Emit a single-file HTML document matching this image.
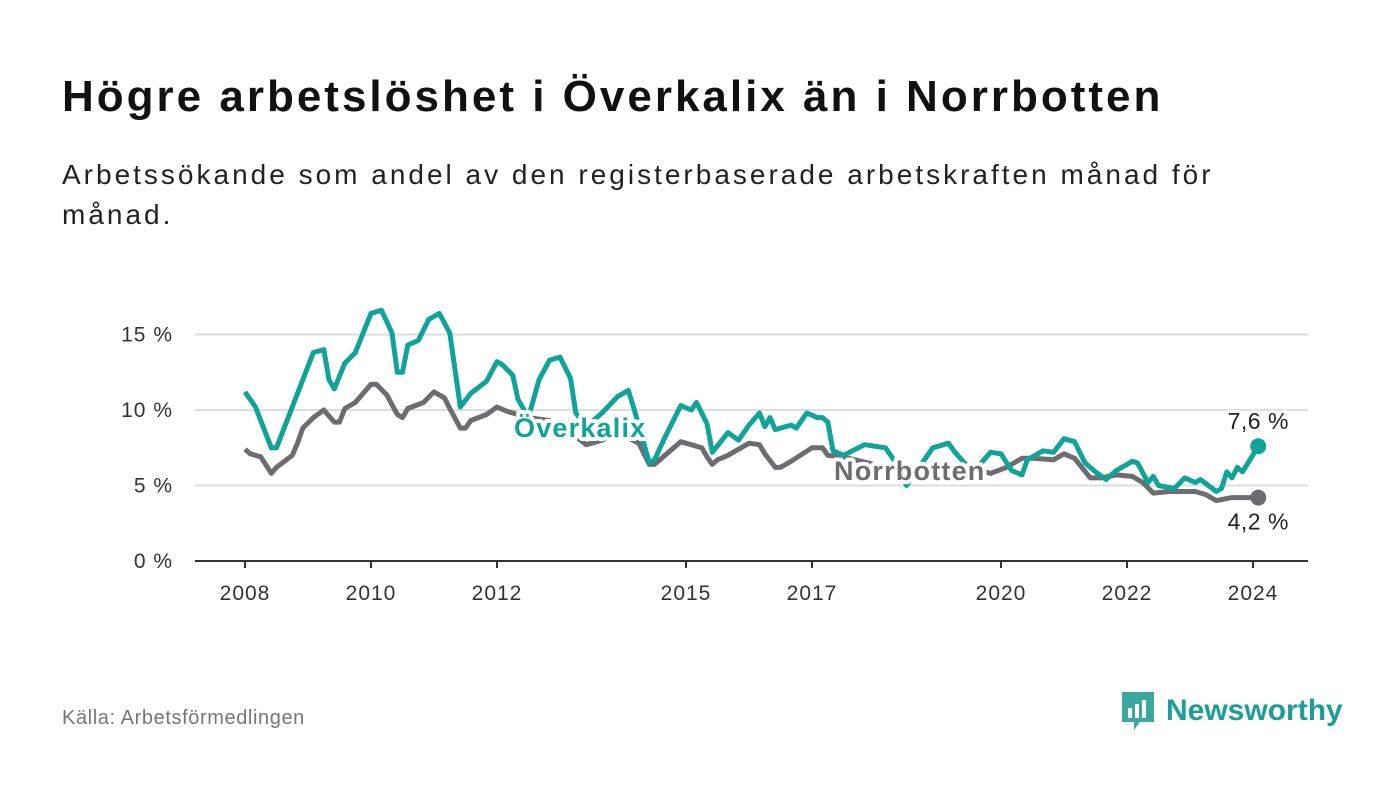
<!DOCTYPE html>
<html><head><meta charset="utf-8"><style>
body{margin:0;width:1400px;height:794px;background:#fff;font-family:"Liberation Sans",sans-serif;overflow:hidden;position:relative}
h1{position:absolute;left:62px;top:72px;margin:0;font-size:44px;letter-spacing:3px;font-weight:bold;color:#111}
.sub{position:absolute;left:62px;top:155px;width:1220px;font-size:28px;letter-spacing:3px;line-height:40px;color:#222}
.src{position:absolute;left:62px;top:707px;font-size:20px;letter-spacing:0.6px;color:#777}
.logo{position:absolute;left:1120px;top:690px;display:flex;align-items:center;gap:10px;color:#1a9e96;font-weight:bold;font-size:30px}
</style></head><body>
<h1>Högre arbetslöshet i Överkalix än i Norrbotten</h1>
<div class="sub">Arbetssökande som andel av den registerbaserade arbetskraften månad för månad.</div>
<svg id="chart" width="1400" height="794" style="position:absolute;left:0;top:0"></svg>
<div class="src">Källa: Arbetsförmedlingen</div>
<div class="logo"><svg width="36" height="42" viewBox="0 0 36 42"><path d="M2 2h32v30H20l-6 8v-8H2z" fill="#3aa89f"/><rect x="8" y="18" width="4" height="10" fill="#fff"/><rect x="15" y="14" width="4" height="14" fill="#fff"/><rect x="22" y="10" width="4" height="18" fill="#fff"/></svg><span>Newsworthy</span></div>
<script>
const yTicks=[0,5,10,15];
const yearTicks=[2008,2010,2012,2015,2017,2020,2022,2024];
const overMonths=[0,2,5,6,9,11,13,15,16,17,19,21,24,26,28,29,30,31,33,35,37,39,41,43,46,48,49,51,52,54,56,58,60,62,63,65,68,71,73,74,77,78,80,83,85,86,88,89,92,94,96,98,99,100,101,104,105,107,109,110,111,112,114,118,122,124,126,128,131,134,135,137,139,142,144,146,148,149,152,154,156,158,160,162,164,166,169,170,172,173,174,177,179,181,182,185,186,187,188,189,190,193];
const overValues=[11.2,10.2,7.5,7.5,10.2,12.0,13.8,14.0,12.0,11.4,13.1,13.8,16.4,16.6,15.1,12.5,12.5,14.3,14.6,16.0,16.4,15.1,10.2,11.1,11.9,13.2,13.0,12.3,10.7,9.5,12.0,13.3,13.5,12.1,9.8,8.9,9.8,10.9,11.3,10.2,6.5,6.7,8.2,10.3,10.0,10.5,9.1,7.2,8.5,8.0,9.0,9.8,8.9,9.5,8.7,9.0,8.8,9.8,9.5,9.5,9.2,7.3,7.0,7.7,7.5,6.5,5.0,6.0,7.5,7.8,7.3,6.5,6.0,7.2,7.1,6.0,5.7,6.7,7.3,7.2,8.1,7.9,6.5,5.9,5.4,6.0,6.6,6.5,5.2,5.6,5.0,4.8,5.5,5.2,5.4,4.6,4.8,5.9,5.5,6.2,5.9,7.6];
const norrMonths=[0,1,3,5,6,9,10,11,13,15,17,18,19,21,24,25,27,29,30,31,34,36,38,39,41,42,43,46,48,50,54,58,62,65,68,71,75,77,78,80,83,85,87,88,89,90,92,96,98,99,101,102,104,108,110,111,115,121,127,132,138,142,145,148,150,154,156,158,161,163,166,169,171,173,176,179,181,183,185,188,190,193];
const norrValues=[7.4,7.1,6.9,5.8,6.2,7.0,7.8,8.8,9.5,10.0,9.2,9.2,10.1,10.5,11.7,11.7,11.0,9.7,9.5,10.1,10.5,11.2,10.8,10.1,8.8,8.8,9.3,9.7,10.2,9.9,9.5,9.3,8.5,7.7,8.0,8.5,7.8,6.4,6.4,7.0,7.9,7.7,7.5,6.9,6.4,6.7,7.0,7.8,7.7,7.1,6.2,6.2,6.6,7.5,7.5,7.0,6.8,6.3,5.8,6.0,6.2,5.8,6.2,6.8,6.8,6.7,7.1,6.8,5.5,5.5,5.7,5.6,5.2,4.5,4.6,4.6,4.6,4.4,4.0,4.2,4.2,4.2];
const NS="http://www.w3.org/2000/svg",svg=document.getElementById('chart');
const x=m=>245+m*5.25, xy=yr=>245+(yr-2008)*63, y=v=>561-v*15.1;
function mk(t,a,p){const e=document.createElementNS(NS,t);for(const k in a)e.setAttribute(k,a[k]);(p||svg).appendChild(e);return e;}
yTicks.forEach(v=>{
 const g=mk('line',{x1:195,x2:1308,y1:y(v),y2:y(v),stroke:v?'#ddd':'#333','stroke-width':2});
 
 
 const t=mk('text',{x:173,y:y(v)+7,'text-anchor':'end','font-size':21,'letter-spacing':1,fill:'#333'});t.textContent=v+' %';
 
 
});
yearTicks.forEach(yr=>{
 mk('line',{x1:xy(yr),x2:xy(yr),y1:561,y2:568,stroke:'#333','stroke-width':2});
 const t=mk('text',{x:xy(yr),y:600,'text-anchor':'middle','font-size':21,'letter-spacing':1,fill:'#333'});t.textContent=yr;
 
 
});
function line(ms,vs,c,name){const d=ms.map((m,i)=>(i?'L':'M')+x(m).toFixed(1)+','+y(vs[i]).toFixed(1)).join('');
 const p=mk('path',{d,fill:'none',stroke:c,'stroke-width':5,'stroke-linejoin':'round'});
 
 
 const n=ms.length-1;
 const c2=mk('circle',{cx:x(ms[n]),cy:y(vs[n]),r:8,fill:c});
 
 
}
line(norrMonths,norrValues,'#6d6d71','norrbotten-line');
line(overMonths,overValues,'#0fa39a','overkalix-line');
function lab(txt,xx,yy,c,name,anchor,bold,ls){const t=mk('text',{x:xx,y:yy,'font-size':bold?27:23,'letter-spacing':ls,'font-weight':bold?'bold':'normal',fill:c,stroke:'#fff','stroke-width':bold?8:6,'paint-order':'stroke','text-anchor':anchor||'start','stroke-linejoin':'round'});t.textContent=txt;
 
 }
lab('Överkalix',514,437,'#0fa39a','overkalix-label','start',true,1.2);
lab('Norrbotten',834,480,'#6d6d71','norrbotten-label','start',true,1.2);
const n1=overValues.length-1,n2=norrValues.length-1;
lab(overValues[n1].toFixed(1).replace('.',',')+' %',x(overMonths[n1]),y(overValues[n1])-17,'#222','overkalix-end-value','middle',false,0.5);
lab(norrValues[n2].toFixed(1).replace('.',',')+' %',x(norrMonths[n2]),y(norrValues[n2])+32,'#222','norrbotten-end-value','middle',false,0.5);
</script>
</body></html>
